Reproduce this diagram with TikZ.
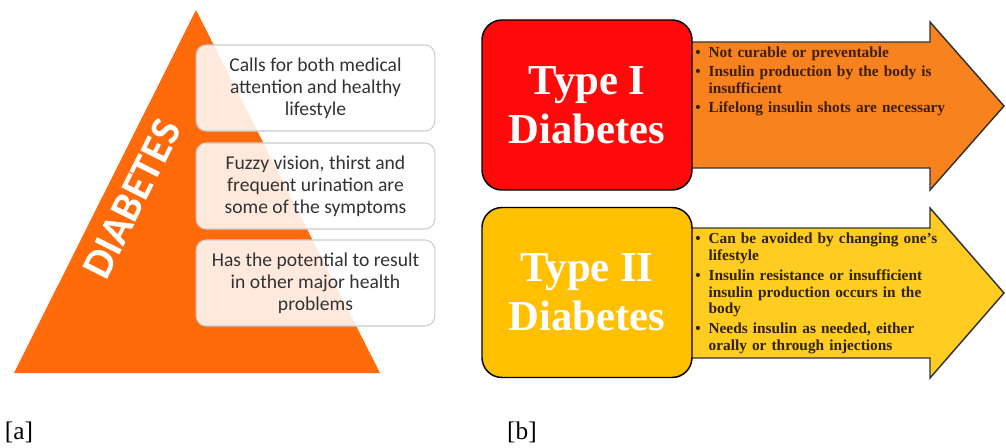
\documentclass[tikz,border=0pt]{standalone}
\usepackage{fontspec}
\setmainfont{Liberation Serif}
\newfontfamily\calfont{Carlito}
\definecolor{triorange}{HTML}{FF6A0A}
\definecolor{boxline}{HTML}{C9CDD1}
\definecolor{lefttext}{HTML}{333333}
\definecolor{redbox}{HTML}{FF0A0A}
\definecolor{arrowone}{HTML}{F7821E}
\definecolor{goldbox}{HTML}{FFC000}
\definecolor{arrowtwo}{HTML}{FFCC22}
\definecolor{edgegray}{HTML}{333333}
\definecolor{bulone}{HTML}{3D1E0C}
\definecolor{bultwo}{HTML}{2E2200}
\newcommand{\bitem}[1]{\hangindent=10pt\hangafter=1\noindent\makebox[10pt][l]{\textbullet}#1\par}
\newcommand{\nl}{\hfil\break}
\tikzset{
  sbox/.style={draw=boxline, line width=0.8pt, fill=white, fill opacity=0.86, text opacity=1, draw opacity=1,
    rounded corners=7.5pt, minimum width=179pt, minimum height=64.5pt, inner sep=0pt, align=center,
    text=lefttext, font=\calfont\fontsize{14.7}{16.5}\selectfont},
  typebox/.style={draw=black, line width=1.1pt, rounded corners=15pt, minimum width=157.5pt, minimum height=127.5pt,
    inner sep=0pt, align=center, text=white, font=\bfseries\fontsize{32}{37}\selectfont},
  arrowshape/.style={draw=edgegray, line width=1.1pt, line join=miter},
  bul/.style={inner sep=0pt, align=left, text width=200pt, anchor=north west},
  figlabel/.style={inner sep=0pt, font=\fontsize{19}{19}\selectfont}
}
\begin{document}
\begin{tikzpicture}[x=0.75pt,y=-0.75pt]
\useasboundingbox (0,0) rectangle (1006,447);
\fill[white] (0,0) rectangle (1006,447);
% panel a
\fill[triorange] (196,10) -- (380,373) -- (14,373) -- cycle;
\node[rotate=63.4, text=white, font=\calfont\bfseries\fontsize{32}{32}\selectfont, inner sep=0pt] (dia) at (132,199) {DIABETES};
\node[sbox] (b1) at (315.5,88) {Calls for both medical\\attention and healthy\\lifestyle};
\node[sbox] (b2) at (315.5,186) {Fuzzy vision, thirst and\\frequent urination are\\some of the symptoms};
\node[sbox] (b3) at (315.5,283) {Has the potential to result\\in other major health\\problems};
\node[figlabel] (la) at (19,432) {[a]};
% panel b
\filldraw[arrowshape, fill=arrowone] (660,42) -- (930,42) -- (930,22) -- (1004,106) -- (930,190) -- (930,168) -- (660,168) -- cycle;
\filldraw[arrowshape, fill=arrowtwo] (660,228) -- (930,228) -- (930,208) -- (1004,293) -- (930,378) -- (930,358) -- (660,358) -- cycle;
\node[typebox, fill=redbox] (t1) at (587,105) {Type I\\Diabetes};
\node[typebox, fill=goldbox] (t2) at (587,292.5) {Type II\\Diabetes};
\node[bul, text=bulone, font=\bfseries\fontsize{11.5}{12.75}\selectfont, execute at begin node={\parskip=1.5pt}] (l1) at (695,47)
  {\bitem{Not curable or preventable}\bitem{Insulin production by the body is\nl insufficient}\bitem{Lifelong insulin shots are necessary}};
\node[bul, text=bultwo, font=\bfseries\fontsize{11.5}{12.3}\selectfont, execute at begin node={\parskip=3pt}] (l2) at (695,233)
  {\bitem{Can be avoided by changing one's\nl lifestyle}\bitem{Insulin resistance or insufficient\nl insulin production occurs in the\nl body}\bitem{Needs insulin as needed, either\nl orally or through injections}};
\node[figlabel] (lb) at (522,432) {[b]};
\end{tikzpicture}
\end{document}
